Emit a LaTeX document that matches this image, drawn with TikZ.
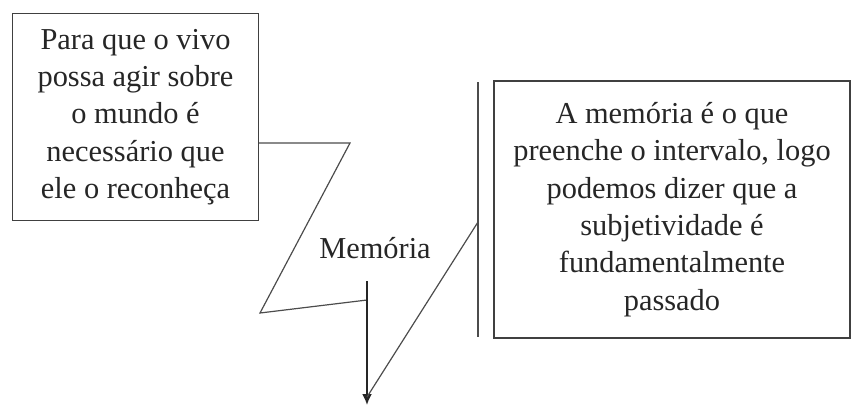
\documentclass[tikz,border=0pt]{standalone}
\usepackage{fontspec}
\setmainfont{Liberation Serif}
\usepackage{tikz}
\usetikzlibrary{arrows.meta}
\tikzset{caixa/.style={draw=black!75,line width=0.7pt,align=center,inner sep=0pt,
  font=\fontsize{15.2}{18.7}\selectfont,text=black!85},
 rotulo/.style={font=\fontsize{15.2}{18.7}\selectfont,text=black!85},
 traco/.style={draw=black!70,line width=0.6pt},
 seta/.style={draw=black!85,line width=0.9pt,-{Latex[length=5.5pt,width=5pt]}},
 }

\begin{document}
\begin{tikzpicture}[x=0.5pt,y=-0.5pt]
        \useasboundingbox (0,0) rectangle (852,409);
        \node[caixa,minimum width=123pt,minimum height=103.5pt] (viver) at (135.5,117)
            {Para que o vivo\\possa agir sobre\\o mundo é\\necessário que\\ele o reconheça};
        \node[caixa,minimum width=178pt,minimum height=128.5pt] (intervalo) at (672,209.5)
            {A memória é o que\\preenche o intervalo, logo\\podemos dizer que a\\subjetividade é\\fundamentalmente\\passado};
        \node[rotulo] (memoria) at (375,248) {Memória};
        \coordinate (q1) at (350,143);
        \coordinate (q2) at (260,313);
        \coordinate (q3) at (367,300);
        \coordinate (topo) at (367,281);
        \coordinate (ponta) at (367,405);
        \coordinate (q4) at (367,397);
        \coordinate (q5) at (478,222);
        \coordinate (barra1) at (478,82);
        \coordinate (barra2) at (478,337);
        \draw[traco] (viver.east |- q1) -- (q1) -- (q2) -- (q3);
        \draw[seta] (topo) -- (ponta);
        \draw[traco] (q4) -- (q5);
        \draw[traco] (barra1) -- (barra2);
    \end{tikzpicture}
\end{document}
